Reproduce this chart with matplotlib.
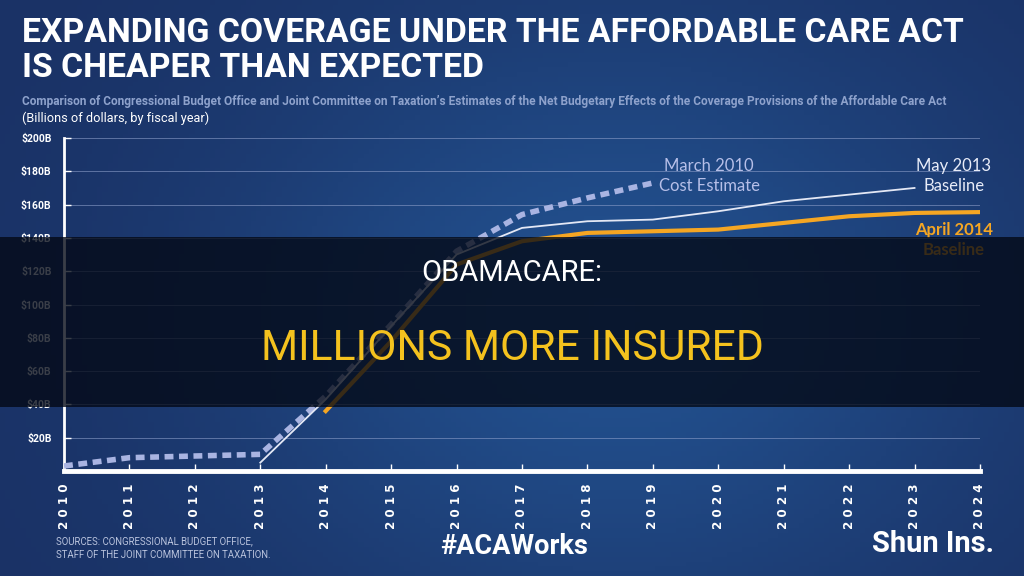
import numpy as np
import matplotlib
matplotlib.use("Agg")
import matplotlib.pyplot as plt
from matplotlib.patches import Rectangle
from matplotlib.colors import LinearSegmentedColormap

# data (billions of dollars, by fiscal year)
years_mar2010 = [2010, 2011, 2012, 2013, 2014, 2015, 2016, 2017, 2018, 2019]
mar2010 = [3, 8, 9, 10, 45, 88, 132, 154, 164, 173]

years_may2013 = [2013, 2014, 2015, 2016, 2017, 2018, 2019, 2020, 2021, 2022, 2023]
may2013 = [5, 43, 87, 130, 146, 150, 151, 156, 162, 166, 170]

years_apr2014 = [2014, 2015, 2016, 2017, 2018, 2019, 2020, 2021, 2022, 2023, 2024]
apr2014 = [36, 78, 124, 138, 143, 144, 145, 149, 153, 155, 155.5]

yticks = [20, 40, 60, 80, 100, 120, 140, 160, 180, 200]
xyears = list(range(2010, 2025))

cond = ['Roboto', 'DejaVu Sans']

fig = plt.figure(figsize=(10.24, 5.76), dpi=100)

# background gradient
bg = fig.add_axes([0, 0, 1, 1], zorder=-10)
xx, yy = np.meshgrid(np.linspace(0, 1, 200), np.linspace(0, 1, 120))
grad = np.exp(-((xx - 0.6) ** 2) / 0.15 - ((yy - 0.45) ** 2) / 0.3)
cmap_bg = LinearSegmentedColormap.from_list('bg', ['#1a3266', '#22508e'])
bg.imshow(grad, cmap=cmap_bg, aspect='auto', extent=[0, 1, 0, 1], origin='lower')
bg.axis('off')

ax = fig.add_axes([0.0625, 0.1823, 0.8945, 0.5781])
ax.set_facecolor('none')
ax.set_xlim(2010, 2024)
ax.set_ylim(0, 200)

for v in yticks:
    ax.axhline(v, color='#8a9cc8', lw=0.7, alpha=0.6, zorder=1)

ax.plot(years_mar2010, mar2010, color='#a9b4e2', lw=4, dashes=(1.6, 1.0), zorder=3)
ax.plot(years_may2013, may2013, color='#e4e8f5', lw=1.3, zorder=4)
ax.plot(years_apr2014, apr2014, color='#f5a623', lw=3, zorder=5)

for s in ['top', 'right']:
    ax.spines[s].set_visible(False)
ax.spines['left'].set_color('white')
ax.spines['left'].set_linewidth(2)
ax.spines['bottom'].set_color('white')
ax.spines['bottom'].set_linewidth(3.5)

ax.set_yticks(yticks)
ax.set_yticklabels(['$%dB' % v for v in yticks], fontsize=7.5, fontweight='bold',
                   color='white', family=cond)
ax.set_xticks(xyears)
ax.set_xticklabels([' '.join(str(y)) for y in xyears], rotation=90, fontsize=8.6,
                   fontweight='bold', color='white', family='DejaVu Sans')
ax.tick_params(axis='y', direction='in', length=5, color='white', width=1, pad=9)
ax.tick_params(axis='x', direction='in', length=5, color='white', width=1, pad=9)

ax.text(2019.86, 177, 'March 2010\nCost Estimate', color='#b6bfe8', fontsize=12,
        ha='center', va='center', linespacing=1.3, family=['Lato', 'DejaVu Sans'])
ax.text(2023.6, 177, 'May 2013\nBaseline', color='#e8ecf8', fontsize=12,
        ha='center', va='center', linespacing=1.3, family=['Lato', 'DejaVu Sans'])
ax.text(2023.6, 139, 'April 2014\nBaseline', color='#f5a623', fontsize=12,
        ha='center', va='center', linespacing=1.3, fontweight='bold',
        family=['Lato', 'DejaVu Sans'])

# titles
fig.text(0.021, 0.97, 'EXPANDING COVERAGE UNDER THE AFFORDABLE CARE ACT\nIS CHEAPER THAN EXPECTED',
         color='white', fontsize=24.3, fontweight='bold', family=cond, va='top', ha='left',
         linespacing=1.12)
fig.text(0.021, 1 - 101 / 576, 'Comparison of Congressional Budget Office and Joint Committee on Taxation\u2019s '
         'Estimates of the Net Budgetary Effects of the Coverage Provisions of the Affordable Care Act',
         color='#8ea2cc', fontsize=8.6, fontweight='bold', family=cond, va='center', ha='left')
fig.text(0.021, 1 - 118 / 576, '(Billions of dollars, by fiscal year)', color='white', fontsize=9.2,
         family=cond, va='center', ha='left')

# footer
fig.text(0.055, 1 - 548 / 576, 'SOURCES: CONGRESSIONAL BUDGET OFFICE,\nSTAFF OF THE JOINT COMMITTEE ON TAXATION.',
         color='#b8c2dc', fontsize=6.9, family=cond, va='center', ha='left', linespacing=1.5)
fig.text(0.502, 1 - 547 / 576, '#ACAWorks', color='white', fontsize=19.5, fontweight='bold',
         family=cond, va='center', ha='center')
fig.text(0.971, 1 - 544 / 576, 'Shun Ins.', color='white', fontsize=21, fontweight='bold',
         family=cond, va='center', ha='right')

# dark overlay band
fig.patches.append(Rectangle((0, 1 - 407 / 576), 1, 170 / 576, transform=fig.transFigure,
                             facecolor='#030814', alpha=0.78, zorder=20, edgecolor='none'))
t1 = fig.text(0.5, 1 - 273 / 576, 'OBAMACARE:', color='white', fontsize=21,
              family=cond, va='center', ha='center')
t2 = fig.text(0.5, 1 - 349 / 576, 'MILLIONS MORE INSURED', color='#f4c21e', fontsize=30.7,
              family=cond, va='center', ha='center')
t1.set_zorder(30)
t2.set_zorder(30)

fig.savefig('out.png', dpi=100)
